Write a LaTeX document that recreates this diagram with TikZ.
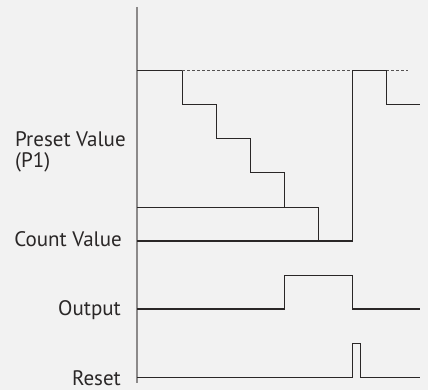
\documentclass[tikz,border=0pt]{standalone}
\usepackage{fontspec}
\setmainfont{PT Sans}
\definecolor{bg}{HTML}{F2F2F2}
\definecolor{ink}{HTML}{2A2727}
\definecolor{axisgray}{HTML}{8C8A8A}
\begin{document}
\begin{tikzpicture}[x=1pt,y=-1pt,
  lbl/.style={inner sep=0pt,text=ink,font=\fontsize{21}{25}\selectfont},
  sig/.style={draw=ink,line width=1.3pt},
  dashsig/.style={draw=ink!80,line width=1.1pt,dash pattern=on 3pt off 2pt},
  axisline/.style={draw=axisgray,line width=2pt}]
\fill[bg] (0,0) rectangle (428,390);
\useasboundingbox (0,0) rectangle (428,390);
% labels
\node[lbl,anchor=base west] (pv) at (15,146.7) {Preset Value};
\node[lbl,anchor=base west] (p1) at (15,167.7) {(P1)};
\node[lbl,anchor=base east] (cv) at (122,246.7) {Count Value};
\node[lbl,anchor=base east] (out) at (121,315) {Output};
\node[lbl,anchor=base east] (rst) at (121,385) {Reset};
% axis
\coordinate (atop) at (137,7);
\coordinate (abot) at (137,383);
\draw[axisline] (atop) -- (abot);
% preset value staircase
\draw[sig] (137,70.3) -- (182.3,70.3) -- (182.3,104.3) -- (216.3,104.3) -- (216.3,138.3)
  -- (250.3,138.3) -- (250.3,172.3) -- (284.3,172.3) -- (284.3,207.3);
\draw[dashsig] (182.3,70.3) -- (352.3,70.3);
\draw[dashsig] (386.3,70.3) -- (408,70.3);
\draw[sig] (137,207.3) -- (318.3,207.3) -- (318.3,241);
% count value
\draw[sig] (137,241) -- (352.3,241) -- (352.3,70.3) -- (386.3,70.3) -- (386.3,104.3) -- (420.3,104.3);
% output
\draw[sig] (137,309) -- (284.3,309) -- (284.3,275.3) -- (352.3,275.3) -- (352.3,309) -- (420.3,309);
% reset
\draw[sig] (137,377.3) -- (352.3,377.3) -- (352.3,343.3) -- (360.3,343.3) -- (360.3,377.3) -- (420.3,377.3);
\end{tikzpicture}
\end{document}
